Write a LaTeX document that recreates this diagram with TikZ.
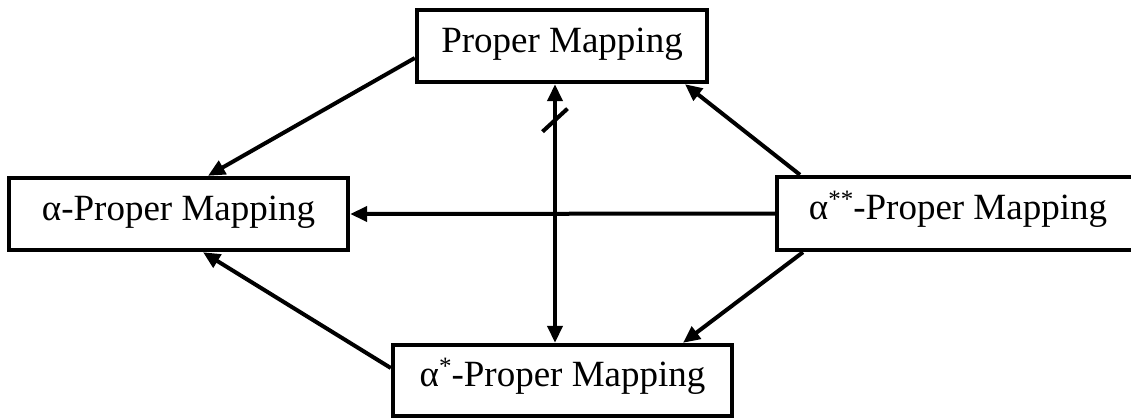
\documentclass[tikz,border=0pt]{standalone}
\usepackage{fontspec}
\setmainfont{Liberation Serif}
\usetikzlibrary{calc,arrows.meta}
\newcommand{\sups}[1]{\raisebox{0.32em}{\fontsize{12.5}{12.5}\selectfont #1}}
\tikzset{
  box/.style={draw=black, line width=2.2pt, inner sep=0pt, fill=white,
    font=\fontsize{18.5}{22}\selectfont, text height=0.7em, text depth=0.1em},
  conn/.style={line width=2pt, -{Triangle[length=8.5pt,width=7.5pt]}},
  dconn/.style={line width=2pt, {Triangle[length=8.5pt,width=7.5pt]}-{Triangle[length=8.5pt,width=7.5pt]}},
  slashmark/.style={line width=2pt}
}
\begin{document}
\begin{tikzpicture}[x=0.5pt,y=-0.5pt]
\useasboundingbox (0,0) rectangle (1131,419);
\node[box, minimum width=145pt, minimum height=36pt] (P) at (562,46) {Proper Mapping};
\node[box, minimum width=169.5pt, minimum height=36pt] (A) at (178.5,214) {α-Proper Mapping};
\node[box, minimum width=181pt, minimum height=36.5pt] (B) at (958,213.5) {α\sups{**}-Proper Mapping};
\node[box, minimum width=169.5pt, minimum height=35.5pt] (C) at (562.5,380.5) {α\sups{*}-Proper Mapping};
\draw[conn] ($(P.west)+(0,12)$) -- ($(A.north)+(29.5,0)$);
\draw[conn] (B.west) -- (A.east);
\draw[conn] ($(C.west)+(0,-12.5)$) -- ($(A.south)+(24.5,0)$);
\draw[conn] ($(B.north)+(-158,0)$) -- ($(P.south)+(123,0)$);
\draw[conn] ($(B.south)+(-155,0)$) -- ($(C.north)+(120.5,0)$);
\draw[dconn] ($(P.south)+(-7,0)$) -- coordinate[pos=0.139] (m) ($(C.north)+(-7.5,0)$);
\draw[slashmark] ($(m)+(-12.5,11.5)$) -- ($(m)+(12.5,-11.5)$);
\end{tikzpicture}
\end{document}
